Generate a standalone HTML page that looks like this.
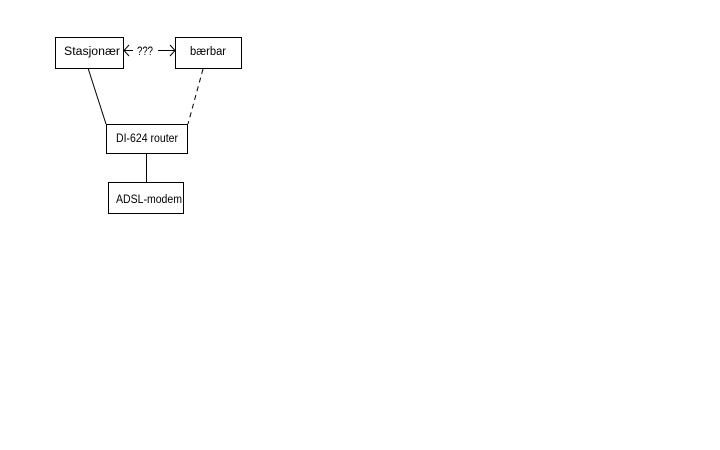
<!DOCTYPE html>
<html><head><style>body{margin:0;background:#fff;}svg{display:block}text{font-family:"Liberation Sans",sans-serif;font-size:11.5px;fill:#000}</style></head>
<body><svg width="720" height="450" xmlns="http://www.w3.org/2000/svg">
<g fill="#fff" stroke="#000" stroke-width="1">
<rect x="55.5" y="37.5" width="68" height="31"/>
<rect x="175.5" y="37.5" width="66" height="31"/>
<rect x="106.5" y="124.5" width="81" height="29"/>
<rect x="108.5" y="182.5" width="75" height="31"/>
</g>
<g stroke="#000" stroke-width="1" fill="none">
<line x1="88" y1="68" x2="106" y2="124"/>
<line x1="203" y1="69" x2="188" y2="124" stroke-dasharray="5,4"/>
<line x1="146.5" y1="154" x2="146.5" y2="182"/>
<line x1="124" y1="50.5" x2="133" y2="50.5"/>
<line x1="158" y1="50.5" x2="175" y2="50.5"/>
<polyline points="129,45 124,50.5 129,56"/>
<polyline points="170,45 175,50.5 170,56"/>
</g>
<text x="64" y="55" textLength="56" lengthAdjust="spacingAndGlyphs">Stasjonær</text>
<text x="190" y="55" textLength="36" lengthAdjust="spacingAndGlyphs">bærbar</text>
<text x="137" y="55" textLength="16" lengthAdjust="spacingAndGlyphs">???</text>
<text x="116" y="142" textLength="62" lengthAdjust="spacingAndGlyphs">DI-624 router</text>
<text x="116" y="203" textLength="66" lengthAdjust="spacingAndGlyphs">ADSL-modem</text>
</svg></body></html>
